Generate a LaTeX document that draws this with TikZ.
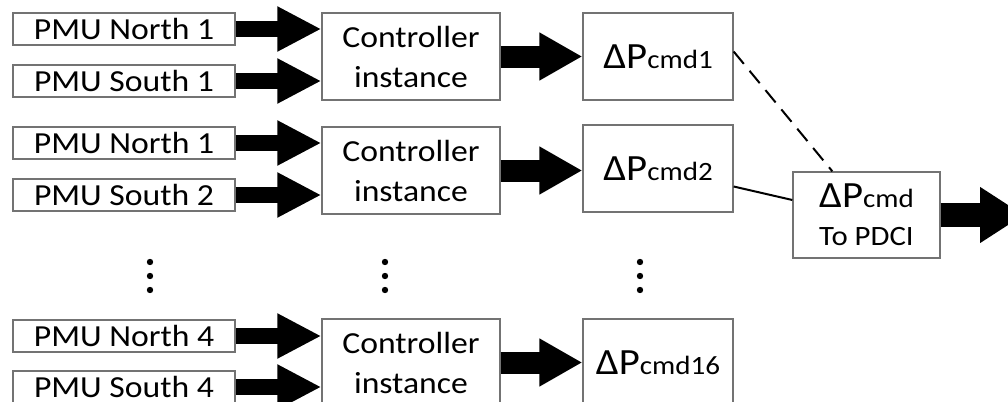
\documentclass[tikz,border=0pt]{standalone}
\usepackage{fontspec}
\setmainfont{Carlito}[FakeStretch=1.1]
\usetikzlibrary{arrows.meta,calc}
\begin{document}
\begin{tikzpicture}[x=0.5pt,y=-0.5pt,
  box/.style={draw=black!55, line width=0.65pt, fill=white, inner sep=0pt, align=center,
    font=\fontsize{15.3}{20}\selectfont},
  pmu/.style={box, minimum width=111pt, minimum height=16pt},
  ctrl/.style={box, minimum width=89pt, minimum height=43.5pt},
  dpbox/.style={box, minimum width=75pt, minimum height=43.5pt},
  inarrow/.style={line width=8pt, -{Triangle[length=22pt,width=21pt]}},
  midarrow/.style={line width=11pt, -{Triangle[length=21.5pt,width=22.5pt]}},
  outarrow/.style={line width=12pt, -{Triangle[length=22pt,width=26.5pt]}},
  link/.style={line width=1pt, black},
  dotmark/.style={circle, fill=black, inner sep=0pt, minimum size=3.2pt}
]
\useasboundingbox (0,0) rectangle (1008,402);
\clip (0,0) rectangle (1008,402);
\newcommand{\dP}[1]{{\fontsize{18.5}{20}\selectfont ΔP}{\fontsize{13.2}{20}\selectfont #1}}

% row 1
\node[pmu] (n1) at (124,29) {PMU North 1};
\node[pmu] (s1) at (124,81) {PMU South 1};
\node[ctrl] (c1) at (411,56.5) {Controller\\instance};
\node[dpbox] (p1) at (658,56.5) {\dP{cmd1}};
% row 2
\node[pmu] (n2) at (124,143) {PMU North 1};
\node[pmu] (s2) at (124,195) {PMU South 2};
\node[ctrl] (c2) at (411,170.5) {Controller\\instance};
\node[dpbox] (p2) at (658,168.5) {\dP{cmd2}};
% row 3
\node[pmu] (n3) at (124,336) {PMU North 4};
\node[pmu] (s3) at (124,387) {PMU South 4};
\node[ctrl] (c3) at (411,362.5) {Controller\\instance};
\node[dpbox] (p3) at (658,362.5) {\dP{cmd16}};
% sum
\node[box, minimum width=73.5pt, minimum height=43pt] (sum) at (866.5,215)
  {\dP{cmd}\\[-1pt]{\fontsize{14}{18}\selectfont To PDCI}};
\coordinate (out) at (1024,215);

% dots
\foreach \xx/\nm in {150/dota,385/dotb,640/dotc}{
  \node[dotmark] (\nm1) at (\xx,262) {};
  \node[dotmark] (\nm2) at (\xx,276) {};
  \node[dotmark] (\nm3) at (\xx,290) {};
}

% arrows
\foreach \i in {1,2,3}{
  \draw[inarrow] (n\i.east) -- (c\i.west |- n\i.east);
  \draw[inarrow] (s\i.east) -- (c\i.west |- s\i.east);
  \draw[midarrow] (c\i.east) -- (p\i.west |- c\i.east);
}
\draw[outarrow] (sum.east) -- (out);

% links
\draw[link, dash pattern=on 8pt off 4.5pt] ([yshift=2.5pt]p1.east) -- ([xshift=20pt]sum.north west);
\draw[link] ([yshift=-9pt]p2.east) -- ([yshift=7.5pt]sum.west);
\end{tikzpicture}
\end{document}
